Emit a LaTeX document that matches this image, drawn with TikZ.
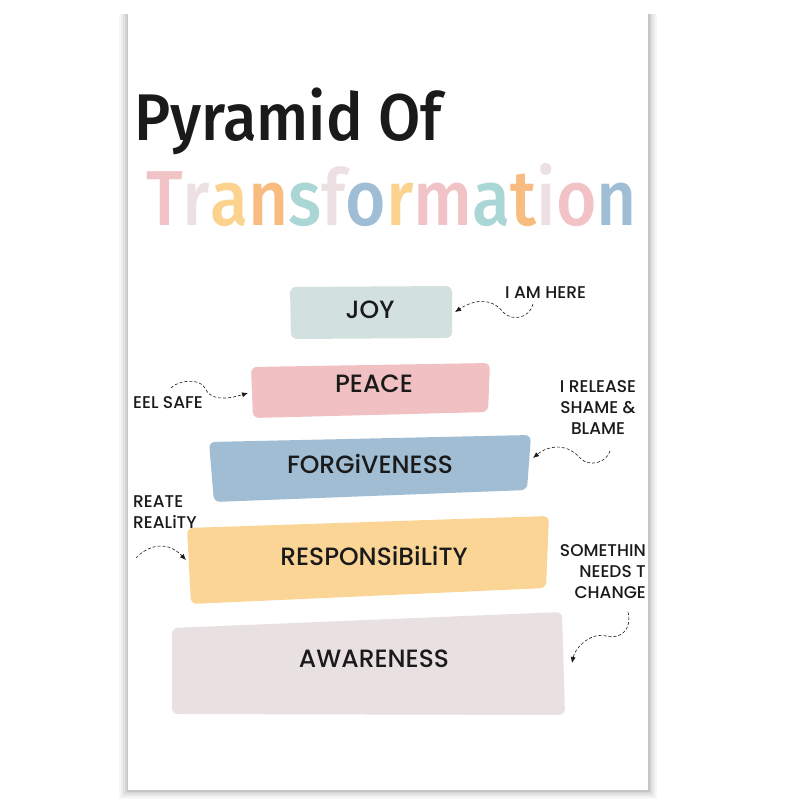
\documentclass[tikz,border=0pt]{standalone}
\usepackage{fontspec}
\setmainfont{Poppins Medium}
\newfontfamily\titlefont{Fira Sans Medium}
\definecolor{rosa}{HTML}{F2C3C6}
\definecolor{gris}{HTML}{ECE0E2}
\definecolor{amarillo}{HTML}{FBD38E}
\definecolor{naranja}{HTML}{F8BC80}
\definecolor{turquesa}{HTML}{AAD6D6}
\definecolor{azul}{HTML}{9FBDD5}
\definecolor{cjoy}{HTML}{D3E0E0}
\definecolor{cpeace}{HTML}{F0C0C2}
\definecolor{cforgive}{HTML}{A0BDD3}
\definecolor{cresp}{HTML}{FBD595}
\definecolor{caware}{HTML}{E9E0E1}
\definecolor{tinta}{HTML}{1A1A1A}
\tikzset{
  caja/.style={rounded corners=6},
  etiqueta/.style={font=\fontsize{25}{25}\selectfont, text=tinta},
  nota/.style={font=\fontsize{17}{21}\selectfont, text=tinta, inner sep=0pt, align=center},
  flecha/.style={densely dashed, semithick, tinta, -{Latex[length=6pt,width=5pt]}}
}
\usetikzlibrary{arrows.meta}
\begin{document}
\begin{tikzpicture}[x=1pt,y=-1pt]
    \useasboundingbox (0,0) rectangle (800,800);
    % Sombra de la hoja
    \foreach \d/\o in {9/0.03,7/0.04,5/0.05,3/0.06,1.5/0.07}
        \fill[black,opacity=\o] (128-\d,14) rectangle (648+\d,790+\d);
    \fill[white] (128,12) rectangle (648,790);
    \begin{scope}
    \clip (128,12) rectangle (647,790);
    % Titulo
    \node[anchor=base west, inner sep=0pt, text=tinta, font=\titlefont\fontsize{66}{66}\selectfont] (titulo) at (134,140)
        {\scalebox{0.93}[1]{Pyramid Of}};
    \node[anchor=base west, inner sep=0pt, font=\titlefont\fontsize{78}{78}\selectfont] (subtitulo) at (146,225)
        {\scalebox{0.89}[1]{\color{rosa}T\color{gris}r\color{amarillo}a\color{naranja}n\color{turquesa}s\color{gris}f\color{azul}o\color{amarillo}r\color{rosa}m\color{turquesa}a\color{naranja}t\color{gris}i\color{rosa}o\color{azul}n}};
    % Cajas de la piramide
    \fill[cjoy, caja] (290,287) -- (452,286) -- (452,338) -- (291,339) -- cycle;
    \fill[cpeace, caja] (251,367) -- (490,363) -- (488,412) -- (253,418) -- cycle;
    \fill[cforgive, caja] (209,442) -- (531,435) -- (527,490) -- (214,502) -- cycle;
    \fill[cresp, caja] (187,528) -- (549,516) -- (546,588) -- (191,604) -- cycle;
    \fill[caware, caja] (172,628) -- (562,612) -- (565,715) -- (172,714) -- cycle;
    % Textos de las cajas
    \node[etiqueta] (joy) at (370,310) {JOY};
    \node[etiqueta] (peace) at (374,384) {PEACE};
    \node[etiqueta] (forgive) at (370,464) {FORGiVENESS};
    \node[etiqueta] (resp) at (374,556) {RESPONSiBiLiTY};
    \node[etiqueta] (aware) at (374,659) {AWARENESS};
    % Bordes de las cajas para las flechas
    \coordinate (joyE) at (455,312);
    \coordinate (peaceW) at (248,393);
    \coordinate (forgiveE) at (533,458);
    \coordinate (respW) at (186,560);
    \coordinate (awareE) at (572,663);
    % Notas
    \node[nota, anchor=west] (aqui) at (505,293) {I AM HERE};
    \node[nota, anchor=west] (seguro) at (133,403) {EEL SAFE};
    \node[nota, anchor=north] (suelto) at (598,380) {I RELEASE\\SHAME \&\\BLAME};
    \node[nota, anchor=north west, align=left] (creo) at (133,495) {REATE\\REALiTY};
    \node[nota, anchor=north east, align=right] (cambio) at (646,544) {SOMETHIN\\NEEDS T\\CHANGE};
    % Puntos de salida de las flechas
    \coordinate (aquiS) at (533,304);
    \coordinate (seguroS) at (171,388);
    \coordinate (sueltoS) at (610,451);
    \coordinate (creoS) at (136,558);
    \coordinate (cambioS) at (628,612);
    % Flechas punteadas
    \draw[flecha] (aquiS) .. controls (530,318) and (512,322) .. (503,312)
        .. controls (494,300) and (478,297) .. (joyE);
    \draw[flecha] (seguroS) .. controls (178,380) and (200,378) .. (205,388)
        .. controls (210,400) and (225,400) .. (peaceW);
    \draw[flecha] (sueltoS) .. controls (607,462) and (590,468) .. (580,458)
        .. controls (568,444) and (550,444) .. (forgiveE);
    \draw[flecha] (creoS) .. controls (145,548) and (165,538) .. (respW);
    \draw[flecha] (cambioS) .. controls (632,628) and (622,640) .. (606,636)
        .. controls (590,632) and (575,648) .. (awareE);
    \end{scope}
\end{tikzpicture}
\end{document}
